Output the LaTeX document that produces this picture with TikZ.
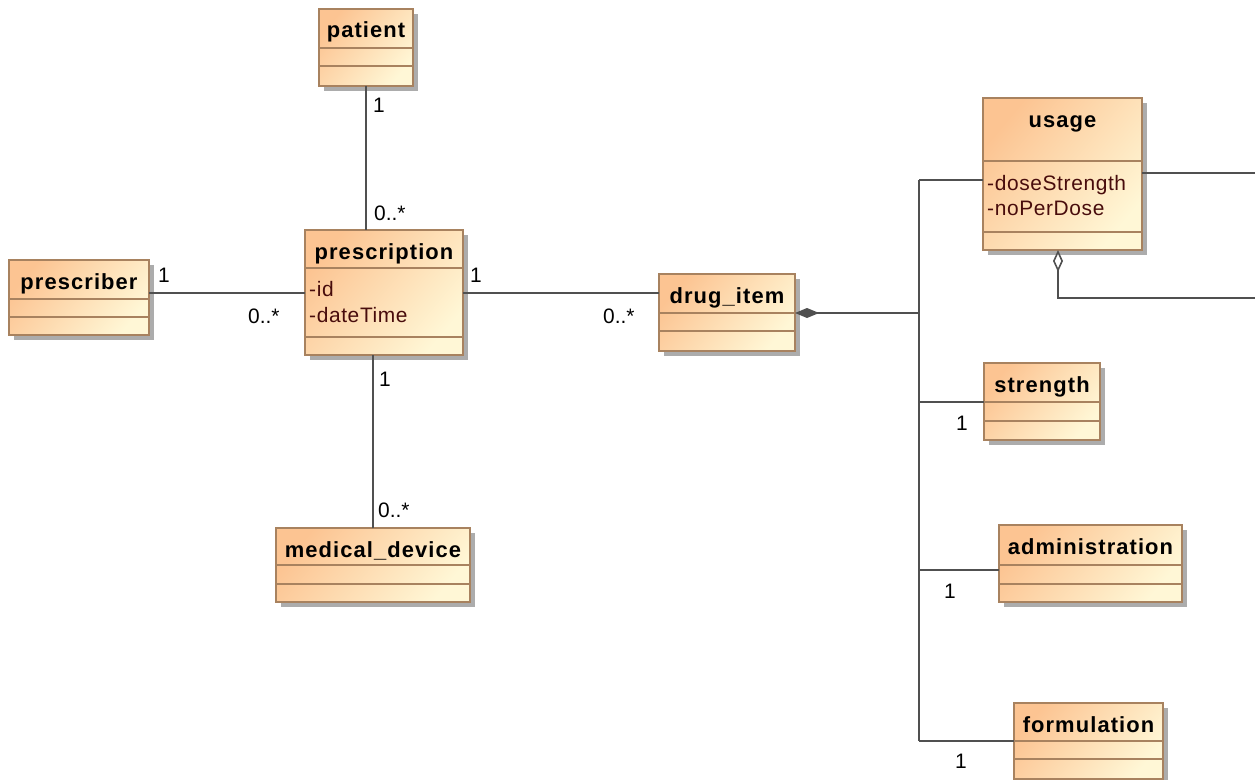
\documentclass[tikz,border=0pt]{standalone}
\usepackage{fontspec}
\setmainfont{Liberation Sans}
\newfontfamily\titlefont[LetterSpace=5]{Liberation Sans}
\newfontfamily\attrfont[LetterSpace=3]{Liberation Sans}
\usetikzlibrary{fit,calc,arrows.meta}

\definecolor{boxtop}{RGB}{252,196,146}
\definecolor{boxbot}{RGB}{255,247,214}
\definecolor{boxedge}{RGB}{168,130,95}
\definecolor{shadowc}{RGB}{172,172,172}
\definecolor{attrc}{RGB}{72,12,12}
\definecolor{wire}{RGB}{80,80,80}

\tikzset{
  classbox/.style={draw=boxedge, line width=1.3bp, inner sep=0pt, outer sep=0pt,
    top color=boxtop, bottom color=boxbot, shading angle=50},
  sepline/.style={draw=boxedge, line width=1.3bp},
  titletext/.style={anchor=base, inner sep=0pt, font=\titlefont\bfseries\fontsize{22}{26}\selectfont},
  attrtext/.style={anchor=base west, inner sep=0pt, text=attrc, font=\attrfont\fontsize{21}{25}\selectfont},
  mult/.style={anchor=base west, inner sep=0pt, font=\fontsize{21}{24}\selectfont},
  assoc/.style={draw=wire, line width=1.6bp},
  compo/.style={draw=wire, line width=2.2bp, {Diamond[length=24bp,width=10bp,fill=wire]}-},
  aggr/.style={draw=wire, line width=1.6bp, {Diamond[length=22bp,width=10bp,open,fill=white]}-}
}

% #1 name, #2 left, #3 top, #4 right, #5 bottom, #6 header rule, #7 attribute rule, #8 class name
\newcommand\umlclass[8]{%
  \fill[shadowc] (#2+5,#3+5) rectangle (#4+5,#5+5);
  \node[classbox, fit={(#2,#3) (#4,#5)}] (#1) {};
  \draw[sepline] (#2,#6) -- (#4,#6);
  \draw[sepline] (#2,#7) -- (#4,#7);
  \node[titletext] (#1-title) at ($(#1.north)+(0,29)$) {#8};
}

\begin{document}
\begin{tikzpicture}[x=1bp, y=-1bp]
\useasboundingbox (0,0) rectangle (1255,780);

% classes
\umlclass{patient}{319}{9}{413}{86}{48}{66}{patient}
\umlclass{prescriber}{9}{260}{149}{335}{299}{317}{prescriber}
\umlclass{prescription}{305}{230}{463}{355}{268}{337}{prescription}
\node[attrtext] (prescription-a1) at (309,296) {-id};
\node[attrtext] (prescription-a2) at (309,322) {-dateTime};
\umlclass{medical_device}{276}{528}{470}{602}{565}{584}{medical\_device}
\umlclass{drug_item}{659}{274}{795}{351}{313}{331}{drug\_item}
\umlclass{usage}{983}{98}{1142}{250}{161}{232}{usage}
\node[attrtext] (usage-a1) at (987,190) {-doseStrength};
\node[attrtext] (usage-a2) at (987,215) {-noPerDose};
\umlclass{strength}{984}{363}{1100}{440}{402}{421}{strength}
\umlclass{administration}{999}{525}{1182}{602}{565}{584}{administration}
\umlclass{formulation}{1014}{703}{1163}{779}{741}{759}{formulation}

% routing levels
\coordinate (lvA) at (0,293);
\coordinate (lvB) at (0,313);
\coordinate (trunkTop) at (919,180);
\coordinate (trunkBot) at (919,741);
\coordinate (lvS) at (0,402);
\coordinate (lvAd) at (0,570);
\coordinate (rightA) at (1255,173);
\coordinate (aggTip) at (1058,250);
\coordinate (aggBend) at (1058,298);
\coordinate (rightB) at (1255,298);

% associations around prescription
\draw[assoc] (patient.south) -- (patient.south |- prescription.north);
\draw[assoc] (prescriber.east |- lvA) -- (prescription.west |- lvA);
\draw[assoc] (prescription.east |- lvA) -- (drug_item.west |- lvA);
\draw[assoc] (medical_device.north) -- (medical_device.north |- prescription.south);

% drug_item composition tree
\draw[compo] (drug_item.east |- lvB) -- (trunkTop |- lvB);
\draw[assoc] (trunkTop) -- (trunkBot);
\draw[assoc] (trunkTop) -- (usage.west |- trunkTop);
\draw[assoc] (trunkTop |- lvS) -- (strength.west |- lvS);
\draw[assoc] (trunkTop |- lvAd) -- (administration.west |- lvAd);
\draw[assoc] (trunkBot) -- (formulation.west |- trunkBot);

% usage links leaving to the right
\draw[assoc] (usage.east |- rightA) -- (rightA);
\draw[aggr] (aggTip) -- (aggBend) -- (rightB);

% multiplicities
\node[mult] (m1) at (373,113) {1};
\node[mult] (m2) at (374,220) {0..*};
\node[mult] (m3) at (158,282) {1};
\node[mult] (m4) at (248,323) {0..*};
\node[mult] (m5) at (470,282) {1};
\node[mult] (m6) at (603,323) {0..*};
\node[mult] (m7) at (379,386) {1};
\node[mult] (m8) at (378,517) {0..*};
\node[mult] (m9) at (956,430) {1};
\node[mult] (m10) at (944,598) {1};
\node[mult] (m11) at (955,768) {1};
\end{tikzpicture}
\end{document}
